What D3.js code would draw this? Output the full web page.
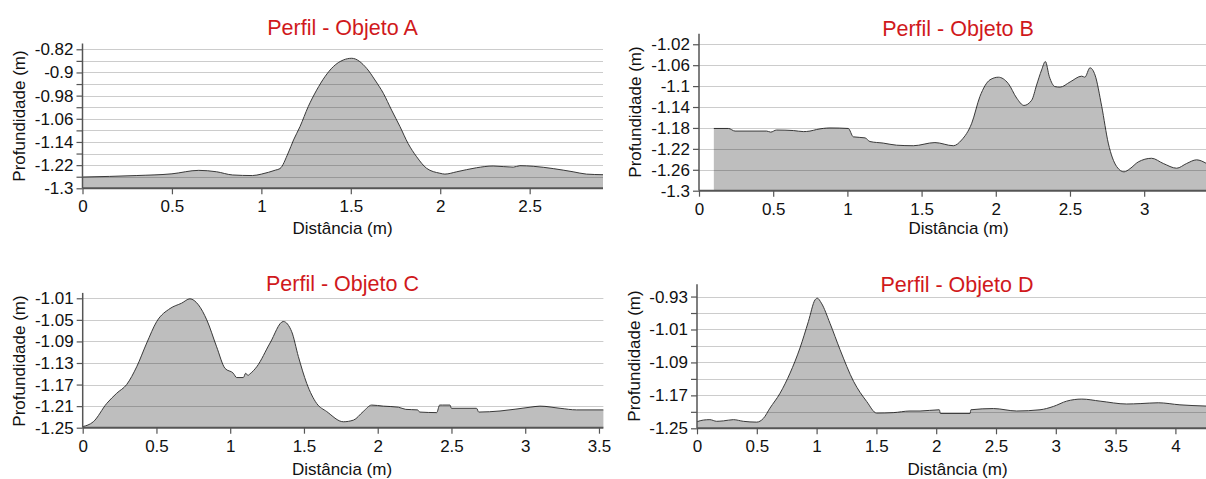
<!DOCTYPE html>
<html>
<head>
<meta charset="utf-8">
<script src="https://cdn.jsdelivr.net/npm/d3@7/dist/d3.min.js"></script>
<style>
  html, body { margin: 0; padding: 0; background: #fff; }
  svg { display: block; font-family: Arial, "Liberation Sans", sans-serif; }
</style>
</head>
<body>
<svg id="chart" width="1206" height="479"></svg>
<script>
// ---------- Data ----------
const titles = ["Perfil - Objeto A", "Perfil - Objeto B", "Perfil - Objeto C", "Perfil - Objeto D"];
const xLabel = "Distância (m)";
const yLabel = "Profundidade (m)";

const distA = [0, 0.3, 0.5, 0.65, 0.75, 0.84, 0.95, 1.0, 1.08, 1.104, 1.15, 1.18, 1.216, 1.262, 1.309, 1.355, 1.402, 1.458, 1.505, 1.589, 1.635, 1.682, 1.728, 1.775, 1.82, 1.868, 1.924, 1.998, 2.026, 2.092, 2.203, 2.296, 2.408, 2.445, 2.52, 2.632, 2.743, 2.818, 2.91];
const depthA = [-1.261, -1.256, -1.25, -1.238, -1.243, -1.254, -1.256, -1.251, -1.237, -1.232, -1.178, -1.133, -1.087, -1.018, -0.961, -0.915, -0.880, -0.857, -0.851, -0.886, -0.926, -0.972, -1.03, -1.087, -1.145, -1.191, -1.231, -1.248, -1.251, -1.243, -1.229, -1.223, -1.227, -1.222, -1.224, -1.232, -1.243, -1.251, -1.253];

const distB = [0.1, 0.198, 0.243, 0.456, 0.483, 0.523, 0.636, 0.703, 0.748, 0.793, 0.883, 1.006, 1.04, 1.119, 1.152, 1.242, 1.332, 1.444, 1.59, 1.714, 1.77, 1.838, 1.893, 1.961, 2.017, 2.084, 2.141, 2.19, 2.242, 2.275, 2.309, 2.334, 2.361, 2.399, 2.433, 2.501, 2.579, 2.6, 2.635, 2.669, 2.714, 2.758, 2.815, 2.864, 2.904, 2.96, 3.05, 3.129, 3.219, 3.286, 3.353, 3.42];
const depthB = [-1.181, -1.181, -1.186, -1.186, -1.188, -1.184, -1.185, -1.187, -1.186, -1.183, -1.180, -1.181, -1.197, -1.199, -1.206, -1.209, -1.213, -1.214, -1.208, -1.214, -1.203, -1.171, -1.120, -1.088, -1.083, -1.095, -1.123, -1.137, -1.127, -1.098, -1.069, -1.053, -1.082, -1.101, -1.102, -1.092, -1.081, -1.083, -1.065, -1.079, -1.139, -1.209, -1.254, -1.264, -1.258, -1.245, -1.238, -1.248, -1.257, -1.248, -1.241, -1.248];

const distC = [0, 0.072, 0.163, 0.231, 0.298, 0.366, 0.434, 0.502, 0.592, 0.671, 0.727, 0.784, 0.841, 0.908, 0.965, 1.021, 1.044, 1.089, 1.105, 1.12, 1.135, 1.18, 1.27, 1.36, 1.417, 1.462, 1.519, 1.586, 1.654, 1.767, 1.835, 1.902, 1.959, 2.038, 2.14, 2.19, 2.27, 2.285, 2.4, 2.42, 2.44, 2.49, 2.5, 2.67, 2.685, 2.829, 3.033, 3.1, 3.236, 3.349, 3.53];
const depthC = [-1.248, -1.239, -1.205, -1.186, -1.170, -1.137, -1.093, -1.053, -1.029, -1.019, -1.011, -1.022, -1.050, -1.100, -1.140, -1.149, -1.157, -1.157, -1.149, -1.153, -1.150, -1.137, -1.093, -1.053, -1.072, -1.118, -1.168, -1.205, -1.220, -1.239, -1.236, -1.220, -1.208, -1.210, -1.212, -1.216, -1.217, -1.221, -1.222, -1.208, -1.208, -1.208, -1.214, -1.214, -1.221, -1.219, -1.212, -1.210, -1.214, -1.217, -1.217];

const distD = [0, 0.053, 0.108, 0.164, 0.22, 0.304, 0.387, 0.499, 0.555, 0.61, 0.694, 0.778, 0.861, 0.931, 0.987, 1.006, 1.04, 1.112, 1.196, 1.309, 1.419, 1.502, 1.64, 1.781, 1.865, 2.026, 2.035, 2.283, 2.29, 2.478, 2.673, 2.868, 2.979, 3.091, 3.217, 3.37, 3.593, 3.705, 3.857, 4.038, 4.256];
const depthD = [-1.234, -1.230, -1.229, -1.233, -1.232, -1.229, -1.233, -1.235, -1.226, -1.201, -1.165, -1.116, -1.055, -0.991, -0.938, -0.934, -0.946, -0.995, -1.059, -1.136, -1.185, -1.213, -1.212, -1.208, -1.208, -1.205, -1.214, -1.214, -1.205, -1.202, -1.208, -1.205, -1.197, -1.184, -1.179, -1.184, -1.191, -1.190, -1.188, -1.193, -1.196];

// axis domains and ticks
const xDomainA = [0, 2.91], yDomainA = [-1.3, -0.8];
const xDomainB = [0, 3.42], yDomainB = [-1.3, -1.0];
const xDomainC = [0, 3.53], yDomainC = [-1.25, -1.0];
const xDomainD = [0, 4.26], yDomainD = [-1.25, -0.9];

const xTicksA = [0, 0.5, 1, 1.5, 2, 2.5];
const xTicksB = [0, 0.5, 1, 1.5, 2, 2.5, 3];
const xTicksC = [0, 0.5, 1, 1.5, 2, 2.5, 3, 3.5];
const xTicksD = [0, 0.5, 1, 1.5, 2, 2.5, 3, 3.5, 4];

const yGridA = [-1.3, -1.26, -1.22, -1.18, -1.14, -1.1, -1.06, -1.02, -0.98, -0.94, -0.9, -0.86, -0.82];
const yLabelsA = [-1.3, -1.22, -1.14, -1.06, -0.98, -0.9, -0.82];
const yGridB = [-1.3, -1.26, -1.22, -1.18, -1.14, -1.1, -1.06, -1.02];
const yLabelsB = yGridB;
const yGridC = [-1.25, -1.21, -1.17, -1.13, -1.09, -1.05, -1.01];
const yLabelsC = yGridC;
const yGridD = [-1.25, -1.21, -1.17, -1.13, -1.09, -1.05, -1.01, -0.97, -0.93];
const yLabelsD = [-1.25, -1.17, -1.09, -1.01, -0.93];

// ---------- Layout ----------
const panels = [
  { title: titles[0], dist: distA, depth: depthA, xd: xDomainA, yd: yDomainA, xt: xTicksA, yg: yGridA, yl: yLabelsA,
    box: { l: 82.5, r: 603, t: 43.5, b: 188.3 }, titlePos: [342.5, 35], xlPos: [342.5, 234], ylPos: [25, 116] },
  { title: titles[1], dist: distB, depth: depthB, xd: xDomainB, yd: yDomainB, xt: xTicksB, yg: yGridB, yl: yLabelsB,
    box: { l: 699, r: 1206.5, t: 33.8, b: 190.7 }, titlePos: [958, 36], xlPos: [958.5, 234], ylPos: [641, 112] },
  { title: titles[2], dist: distC, depth: depthC, xd: xDomainC, yd: yDomainC, xt: xTicksC, yg: yGridC, yl: yLabelsC,
    box: { l: 82.7, r: 603.4, t: 292.9, b: 427.7 }, titlePos: [342.5, 291], xlPos: [342, 474.5], ylPos: [25, 361] },
  { title: titles[3], dist: distD, depth: depthD, xd: xDomainD, yd: yDomainD, xt: xTicksD, yg: yGridD, yl: yLabelsD,
    box: { l: 697, r: 1206.5, t: 284.2, b: 428.3 }, titlePos: [957, 292], xlPos: [957.5, 474.5], ylPos: [640, 356] }
];

const svg = d3.select("#chart");
const fmt = v => String(+v.toFixed(2));

panels.forEach(p => {
  const g = svg.append("g");
  const x = d3.scaleLinear().domain(p.xd).range([p.box.l, p.box.r]);
  const y = d3.scaleLinear().domain(p.yd).range([p.box.b, p.box.t]);
  const pts = p.dist.map((d, i) => [d, p.depth[i]]);

  // area
  const area = d3.area().x(d => x(d[0])).y0(y(p.yd[0])).y1(d => y(d[1])).curve(d3.curveMonotoneX);
  const line = d3.line().x(d => x(d[0])).y(d => y(d[1])).curve(d3.curveMonotoneX);
  g.append("path").datum(pts).attr("d", area).attr("fill", "#bebebe");
  g.append("path").datum(pts).attr("d", line).attr("fill", "none").attr("stroke", "#3a3a3a").attr("stroke-width", 1);

  // gridlines (over area)
  g.append("g").selectAll("line").data(p.yg.slice(1)).join("line")
    .attr("x1", p.box.l).attr("x2", p.box.r)
    .attr("y1", d => Math.round(y(d)) + 0.5).attr("y2", d => Math.round(y(d)) + 0.5)
    .attr("stroke", "rgba(0,0,0,0.2)").attr("stroke-width", 1);

  // y axis
  const yAxis = d3.axisLeft(y).tickValues(p.yg).tickSize(6).tickPadding(3)
    .tickFormat(d => p.yl.some(v => Math.abs(v - d) < 1e-9) ? fmt(d) : "");
  const ya = g.append("g").attr("transform", `translate(${p.box.l},0)`).call(yAxis);
  ya.select(".domain").attr("stroke", "#555").attr("stroke-width", 1.5).attr("d", `M0,${p.box.t}V${p.box.b}`);
  ya.selectAll(".tick line").attr("stroke", "#555").attr("stroke-width", 1.2);
  ya.selectAll(".tick text").attr("fill", "#111").style("font-size", "17px").style("font-family", "Arial, 'Liberation Sans', sans-serif");

  // x axis
  const xAxis = d3.axisBottom(x).tickValues(p.xt).tickSize(6).tickPadding(6).tickFormat(fmt);
  const xa = g.append("g").attr("transform", `translate(0,${p.box.b})`).call(xAxis);
  xa.select(".domain").attr("stroke", "#555").attr("stroke-width", 2).attr("d", `M${p.box.l},0H${p.box.r}`);
  xa.selectAll(".tick line").attr("stroke", "#555").attr("stroke-width", 1.2);
  xa.selectAll(".tick text").attr("fill", "#111").style("font-size", "17px").style("font-family", "Arial, 'Liberation Sans', sans-serif");

  // title
  g.append("text").attr("x", p.titlePos[0]).attr("y", p.titlePos[1]).attr("text-anchor", "middle")
    .attr("fill", "#d0191c").style("font-size", "21.5px").text(p.title);
  // x label
  g.append("text").attr("x", p.xlPos[0]).attr("y", p.xlPos[1]).attr("text-anchor", "middle")
    .attr("fill", "#111").style("font-size", "17px").text(xLabel);
  // y label
  g.append("text").attr("transform", `translate(${p.ylPos[0]},${p.ylPos[1]}) rotate(-90)`).attr("text-anchor", "middle")
    .attr("fill", "#111").style("font-size", "17px").text(yLabel);
});
</script>
</body>
</html>
